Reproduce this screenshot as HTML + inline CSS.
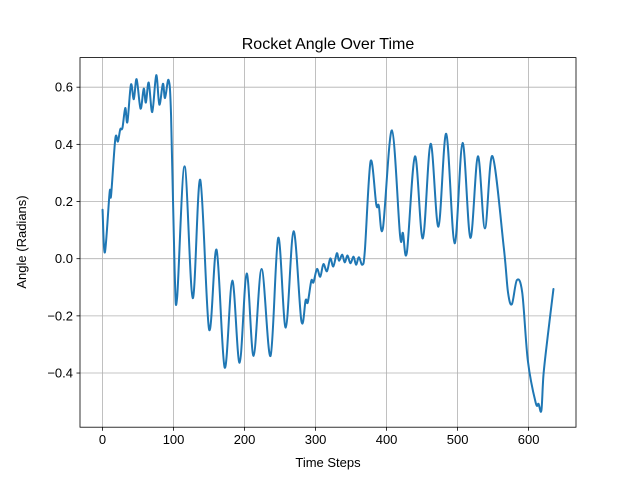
<!DOCTYPE html>
<html><head><meta charset="utf-8"><style>
body{margin:0;background:#fff;}
svg text{font-family:"Liberation Sans","DejaVu Sans",sans-serif;fill:#000;}
</style></head><body>
<svg id="chart" width="640" height="480" viewBox="0 0 640 480" xmlns="http://www.w3.org/2000/svg">
<rect width="640" height="480" fill="#fff"/>
<g id="grid"></g>
<path id="line" fill="none" stroke="#1f77b4" stroke-width="2" stroke-linejoin="round" stroke-linecap="round"/>
<rect x="80" y="57.6" width="496" height="369.6" fill="none" stroke="#000" stroke-width="0.8"/>
<g id="ticks"></g>
<text x="328" y="49" font-size="16" text-anchor="middle">Rocket Angle Over Time</text>
<text x="328" y="467" font-size="13" text-anchor="middle">Time Steps</text>
<text x="26" y="242" font-size="13" text-anchor="middle" transform="rotate(-90 26 242)">Angle (Radians)</text>
</svg>
<script>
const xTicks=[0,100,200,300,400,500,600];
const yTicks=[-0.4,-0.2,0.0,0.2,0.4,0.6];
const yTickLabels=["−0.4","−0.2","0.0","0.2","0.4","0.6"];
const timeSteps=[0,3.3,10,12,18,21.6,25,28,32,35,40,44,48,53.5,58,61,65,70,75.6,80,85,88,93,96.5,101.5,105,115.5,127,137.6,150,160.6,172,182.7,193,203,212.7,224,236.6,247.4,258,269,280,286,289,294,297,302,306.6,311,316,320.7,325,330,333,337.6,341,345,349,353.5,357,361,365.8,369.4,377.5,385.5,389,394.8,407.5,419,423,428.6,440,451,462,473,484,495.8,507,518,528.6,538.5,549,565,571,576.5,583.5,591,599,610,614,618,621,627,635];
const angles=[0.171,0.022,0.233,0.221,0.42,0.41,0.453,0.457,0.527,0.478,0.609,0.558,0.628,0.525,0.595,0.546,0.616,0.513,0.642,0.539,0.612,0.562,0.625,0.5,-0.04,-0.136,0.323,-0.138,0.276,-0.247,0.031,-0.381,-0.077,-0.364,-0.052,-0.34,-0.036,-0.34,0.073,-0.241,0.096,-0.218,-0.145,-0.153,-0.077,-0.083,-0.036,-0.063,-0.019,-0.044,0.001,-0.027,0.019,-0.007,0.014,-0.013,0.011,-0.016,0.007,-0.021,0.005,-0.021,0.028,0.341,0.189,0.186,0.106,0.449,0.081,0.09,0.022,0.358,0.071,0.402,0.112,0.437,0.054,0.405,0.073,0.358,0.106,0.359,0.04,-0.118,-0.159,-0.075,-0.118,-0.358,-0.504,-0.508,-0.531,-0.405,-0.27,-0.106];
const L=80,R=576,T=57.6,B=427.2;
const xMin=-31.75,xMax=666.75,yMin=-0.5895,yMax=0.7035;
function xs(v){return L+(v-xMin)/(xMax-xMin)*(R-L);}
function ys(v){return B-(v-yMin)/(yMax-yMin)*(B-T);}
const NS="http://www.w3.org/2000/svg";
const grid=document.getElementById('grid'),ticks=document.getElementById('ticks');
function mk(tag,attrs,parent){const e=document.createElementNS(NS,tag);for(const k in attrs)e.setAttribute(k,attrs[k]);parent.appendChild(e);return e;}
xTicks.forEach(v=>{const x=xs(v);
 const g=mk('line',{x1:x,x2:x,y1:T,y2:B,stroke:'#b0b0b0','stroke-width':0.8},grid);
 
 
 const t=mk('line',{x1:x,x2:x,y1:B,y2:B+3.5,stroke:'#000','stroke-width':0.8},ticks);
 
 
 const l=mk('text',{x:x,y:B+17,'font-size':13,'text-anchor':'middle'},ticks);l.textContent=String(v);
 
 
});
yTicks.forEach((v,i)=>{const y=ys(v);
 const g=mk('line',{x1:L,x2:R,y1:y,y2:y,stroke:'#b0b0b0','stroke-width':0.8},grid);
 
 
 const t=mk('line',{x1:L-3.5,x2:L,y1:y,y2:y,stroke:'#000','stroke-width':0.8},ticks);
 
 
 const l=mk('text',{x:L-7,y:y+4.5,'font-size':13,'text-anchor':'end'},ticks);l.textContent=yTickLabels[i];
 
 
});
const P=timeSteps.map((t,i)=>[xs(t),ys(angles[i])]);
let d='M'+P[0][0].toFixed(2)+','+P[0][1].toFixed(2);
for(let i=0;i<P.length-1;i++){
 const p0=P[Math.max(0,i-1)],p1=P[i],p2=P[i+1],p3=P[Math.min(P.length-1,i+2)];
 const c1=[p1[0]+(p2[0]-p0[0])/6,p1[1]+(p2[1]-p0[1])/6];
 const c2=[p2[0]-(p3[0]-p1[0])/6,p2[1]-(p3[1]-p1[1])/6];
 d+=' C'+c1.map(n=>n.toFixed(2)).join(',')+' '+c2.map(n=>n.toFixed(2)).join(',')+' '+p2.map(n=>n.toFixed(2)).join(',');
}
document.getElementById('line').setAttribute('d',d);
</script>
</body></html>
